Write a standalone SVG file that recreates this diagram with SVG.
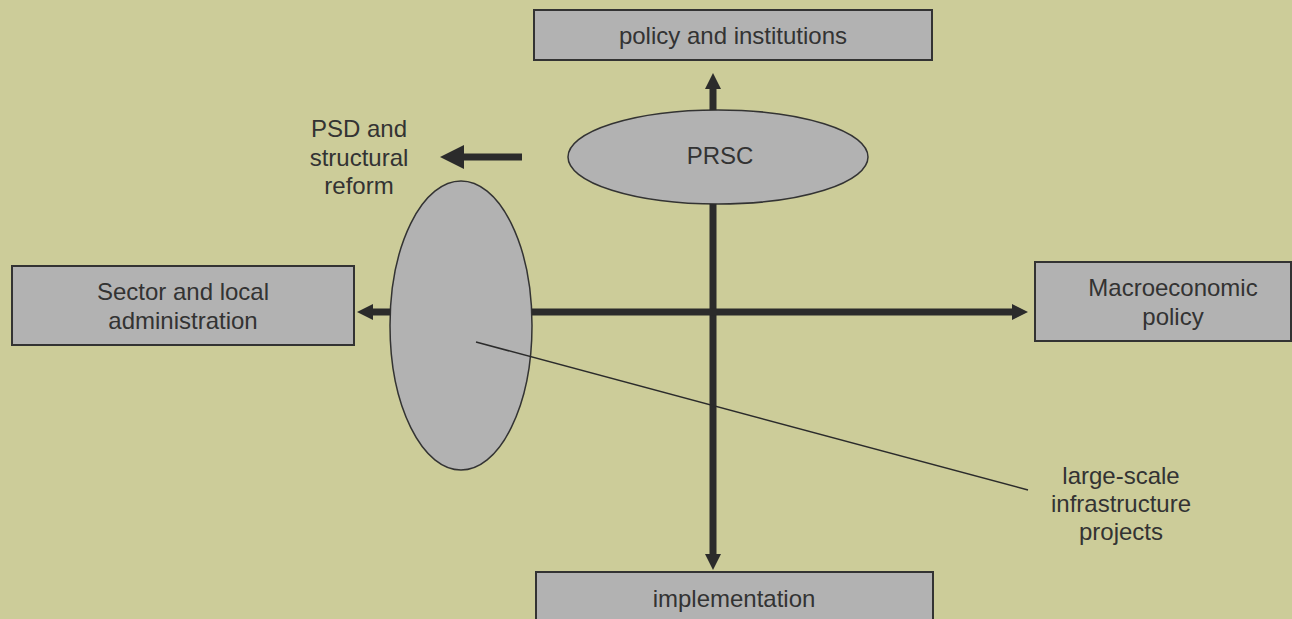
<svg xmlns="http://www.w3.org/2000/svg" width="1292" height="619" viewBox="0 0 1292 619">
<style>
.bg{fill:#CCCC99}
.box{fill:#B2B2B2;stroke:#333333;stroke-width:2}
.ell{fill:#B2B2B2;stroke:#333333;stroke-width:1.5}
.t{font-family:"Liberation Sans",Arial,sans-serif;font-size:24px;fill:#333333;text-anchor:middle}
.thick{stroke:#2B2B2B;stroke-width:7;fill:none}
.thin{stroke:#2B2B2B;stroke-width:1.5;fill:none}
</style>
<defs>
<marker id="ah" viewBox="0 0 16 16" refX="0" refY="8" markerWidth="16" markerHeight="16" markerUnits="userSpaceOnUse" orient="auto">
<path d="M0,0 L16,8 L0,16 z" fill="#2B2B2B"/>
</marker>
<marker id="ahbig" viewBox="0 0 24 24" refX="0" refY="12" markerWidth="24" markerHeight="24" markerUnits="userSpaceOnUse" orient="auto">
<path d="M0,0 L24,12 L0,24 z" fill="#2B2B2B"/>
</marker>
</defs>
<rect class="bg" x="0" y="0" width="1292" height="619"/>
<g id="node-policy">
<rect class="box" x="534" y="10" width="398" height="50"/>
<text class="t" x="733" y="44">policy and institutions</text>
</g>
<g id="node-prsc">
<ellipse class="ell" cx="718" cy="157" rx="150" ry="47"/>
<text class="t" x="720" y="164">PRSC</text>
</g>
<g id="node-sector">
<rect class="box" x="12" y="266" width="342" height="79"/>
<text class="t" x="183" y="300">Sector and local</text>
<text class="t" x="183" y="329">administration</text>
</g>
<g id="node-macro">
<rect class="box" x="1035" y="262" width="256" height="79"/>
<text class="t" x="1173" y="296">Macroeconomic</text>
<text class="t" x="1173" y="325">policy</text>
</g>
<g id="node-impl">
<rect class="box" x="536" y="572" width="397" height="60"/>
<text class="t" x="734" y="607">implementation</text>
</g>
<g id="node-big-ellipse">
<ellipse class="ell" cx="461" cy="325.5" rx="71" ry="144.5"/>
</g>
<g id="label-psd">
<text class="t" x="359" y="137">PSD and</text>
<text class="t" x="359" y="166">structural</text>
<text class="t" x="359" y="194">reform</text>
</g>
<g id="label-infra">
<text class="t" x="1121" y="484">large-scale</text>
<text class="t" x="1121" y="512">infrastructure</text>
<text class="t" x="1121" y="540">projects</text>
</g>
<g id="connectors">
<line class="thick" x1="713" y1="110" x2="713" y2="89" marker-end="url(#ah)"/>
<line class="thick" x1="713" y1="204" x2="713" y2="554" marker-end="url(#ah)"/>
<line class="thick" x1="532" y1="312" x2="1012" y2="312" marker-end="url(#ah)"/>
<line class="thick" x1="390" y1="312" x2="373" y2="312" marker-end="url(#ah)"/>
<line class="thick" x1="522" y1="157" x2="464" y2="157" stroke-width="8" marker-end="url(#ahbig)"/>
<line class="thin" x1="476" y1="342" x2="1028" y2="490"/>
</g>
</svg>
